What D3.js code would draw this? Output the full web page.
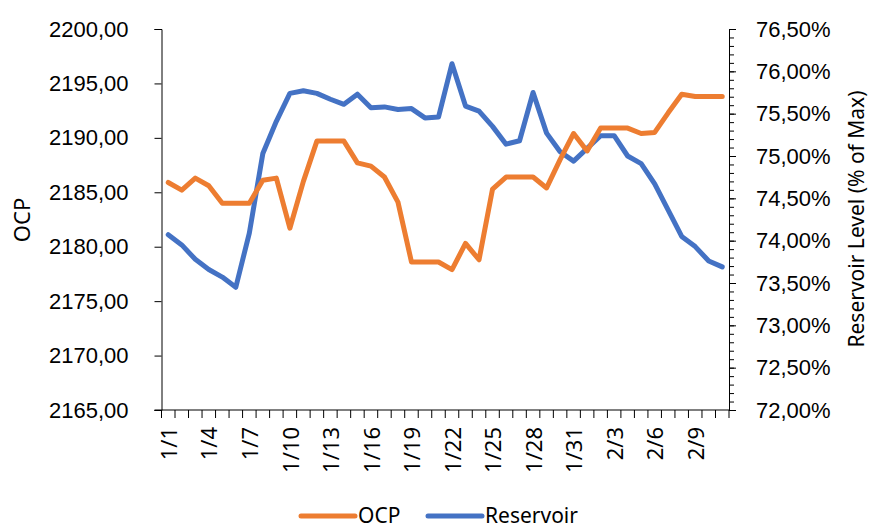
<!DOCTYPE html>
<html>
<head>
<meta charset="utf-8">
<script src="https://cdn.jsdelivr.net/npm/d3@7"></script>
<style>
  html, body { margin: 0; padding: 0; background: #fff; }
  svg { display: block; font-family: "Noto Sans", "Open Sans", sans-serif; }
</style>
</head>
<body>
<svg id="chart" width="872" height="529"></svg>
<script>
// ---- data ----
const categories = [
  "1/1","1/2","1/3","1/4","1/5","1/6","1/7","1/8","1/9","1/10",
  "1/11","1/12","1/13","1/14","1/15","1/16","1/17","1/18","1/19","1/20",
  "1/21","1/22","1/23","1/24","1/25","1/26","1/27","1/28","1/29","1/30",
  "1/31","2/1","2/2","2/3","2/4","2/5","2/6","2/7","2/8","2/9",
  "2/10","2/11"
];
const ocpValues = [
  2185.9, 2185.2, 2186.3, 2185.6, 2184.0, 2184.0, 2184.0, 2186.1, 2186.3, 2181.7,
  2186.0, 2189.7, 2189.7, 2189.7, 2187.7, 2187.4, 2186.4, 2184.1, 2178.6, 2178.6,
  2178.6, 2177.9, 2180.3, 2178.8, 2185.3, 2186.4, 2186.4, 2186.4, 2185.4, 2188.0,
  2190.4, 2188.8, 2190.9, 2190.9, 2190.9, 2190.4, 2190.5, 2192.3, 2194.0, 2193.8,
  2193.8, 2193.8
];
const reservoirValues = [ // percent of max
  74.07, 73.95, 73.78, 73.66, 73.57, 73.45, 74.09, 75.03, 75.41, 75.74,
  75.77, 75.74, 75.67, 75.61, 75.73, 75.57, 75.58, 75.55, 75.56, 75.45,
  75.46, 76.09, 75.59, 75.53, 75.35, 75.14, 75.18, 75.75, 75.27, 75.05,
  74.94, 75.09, 75.24, 75.24, 75.00, 74.91, 74.67, 74.36, 74.05, 73.93,
  73.76, 73.69
];
const leftTicks = [2165, 2170, 2175, 2180, 2185, 2190, 2195, 2200];
const rightTicks = [72, 72.5, 73, 73.5, 74, 74.5, 75, 75.5, 76, 76.5];
const seriesNames = ["OCP", "Reservoir"];
const seriesColors = ["#ED7D31", "#4472C4"];

// ---- layout ----
const svg = d3.select("#chart");
const pLeft = 161.5, pRight = 729, pTop = 29, pBottom = 410;

const x = d3.scaleBand().domain(categories).range([pLeft, pRight]).paddingInner(0).paddingOuter(0);
const yL = d3.scaleLinear().domain([2165, 2200]).range([pBottom, pTop]);
const yR = d3.scaleLinear().domain([72, 76.5]).range([pBottom, pTop]);

const fmtL = v => d3.format(".2f")(v).replace(".", ",");
const fmtR = v => d3.format(".2f")(v).replace(".", ",") + "%";

// left axis
const gL = svg.append("g").attr("transform", `translate(${pLeft},0)`)
  .call(d3.axisLeft(yL).tickValues(leftTicks).tickSize(7).tickPadding(26).tickFormat(fmtL));
gL.selectAll("text").attr("font-size", 22).attr("fill", "#000");

// right axis minor ticks
const minorTicks = d3.range(0, 46).map(i => 72 + i * 0.1);
svg.append("g").attr("transform", `translate(${pRight},0)`)
  .call(d3.axisRight(yR).tickValues(minorTicks).tickSize(5).tickFormat(""))
  .call(g => g.select(".domain").remove());
const gR = svg.append("g").attr("transform", `translate(${pRight},0)`)
  .call(d3.axisRight(yR).tickValues(rightTicks).tickSize(7).tickPadding(20).tickFormat(fmtR));
gR.selectAll("text").attr("font-size", 22).attr("fill", "#000");

// bottom axis: ticks at band edges
const gB = svg.append("g").attr("transform", `translate(0,${pBottom})`);
gB.append("line").attr("x1", pLeft - 7).attr("x2", pRight).attr("y1", 0).attr("y2", 0)
  .attr("stroke", "#000");
const edges = categories.map(c => x(c)).concat([x(categories[categories.length - 1]) + x.bandwidth()]);
gB.selectAll("line.tk").data(edges).enter().append("line").attr("class", "tk")
  .attr("x1", d => d).attr("x2", d => d).attr("y1", 0).attr("y2", 8).attr("stroke", "#000");
gB.selectAll("text").data(categories.filter((c, i) => i % 3 === 0)).enter().append("text")
  .attr("transform", d => `translate(${x(d) + x.bandwidth() / 2 + 1},${17}) rotate(-90)`)
  .attr("text-anchor", "end").attr("dy", "0.35em")
  .attr("font-size", 22).attr("fill", "#000").text(d => d);

svg.selectAll(".domain, .tick line").attr("stroke", "#000");

// lines
const cx = c => x(c) + x.bandwidth() / 2;
const lineL = d3.line().x((d, i) => cx(categories[i])).y(d => yL(d));
const lineR = d3.line().x((d, i) => cx(categories[i])).y(d => yR(d));
svg.append("path").datum(reservoirValues).attr("d", lineR)
  .attr("fill", "none").attr("stroke", seriesColors[1]).attr("stroke-width", 5)
  .attr("stroke-linejoin", "round").attr("stroke-linecap", "round");
svg.append("path").datum(ocpValues).attr("d", lineL)
  .attr("fill", "none").attr("stroke", seriesColors[0]).attr("stroke-width", 5)
  .attr("stroke-linejoin", "round").attr("stroke-linecap", "round");

// axis titles
svg.append("text").attr("transform", "translate(22,220) rotate(-90)")
  .attr("text-anchor", "middle").attr("dy", "0.35em").attr("font-size", 22).attr("fill", "#000")
  .text("OCP");
svg.append("text").attr("transform", "translate(857,219) rotate(-90)")
  .attr("text-anchor", "middle").attr("dy", "0.35em").attr("font-size", 21).attr("fill", "#000")
  .text("Reservoir Level (% of Max)");

// legend
const legendX = [301, 428];
const lg = svg.append("g");
seriesNames.forEach((n, i) => {
  lg.append("line").attr("x1", legendX[i]).attr("x2", legendX[i] + 54)
    .attr("y1", 516).attr("y2", 516).attr("stroke", seriesColors[i])
    .attr("stroke-width", 5).attr("stroke-linecap", "round");
  lg.append("text").attr("x", legendX[i] + 57).attr("y", 516).attr("dy", "0.35em")
    .attr("font-size", 21).attr("fill", "#000").text(n);
});
</script>
</body>
</html>
